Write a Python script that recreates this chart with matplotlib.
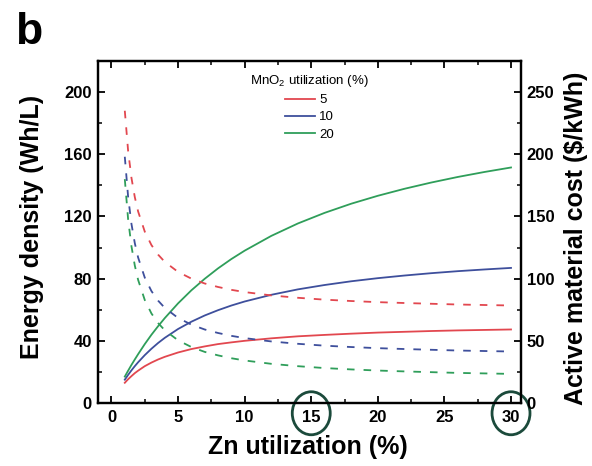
"""
Energy density (solid, left axis) and active material cost (dashed, right axis)
versus Zn utilization for three MnO2 utilization levels.
"""

import matplotlib

matplotlib.use("Agg")
matplotlib.rcParams.update(
    {
        "font.family": ["Liberation Sans", "DejaVu Sans"],
        "mathtext.fontset": "custom",
        "mathtext.rm": "Liberation Sans",
        "mathtext.it": "Liberation Sans:italic",
        "mathtext.bf": "Liberation Sans:bold",
        "mathtext.default": "regular",
    }
)

import matplotlib.pyplot as plt
from matplotlib.patches import Ellipse
from matplotlib.ticker import MultipleLocator

# Zn utilization (%) sample points
zn_util = [1, 1.25, 1.5, 1.75, 2, 2.5, 3, 3.5, 4, 5, 6, 7, 8, 9, 10,
           12, 14, 16, 18, 20, 22, 24, 26, 28, 30]

mno2_labels = ["5", "10", "20"]

# energy density, Wh/L (left axis)
energy_5 = [13.0, 15.3, 17.3, 19.2, 20.8, 23.7, 26.0, 28.0, 29.7, 32.5, 34.7, 36.4,
            37.9, 39.0, 40.0, 41.6, 42.9, 43.8, 44.6, 45.3, 45.8, 46.3, 46.7, 47.0, 47.3]
energy_10 = [15.0, 18.1, 21.0, 23.7, 26.2, 30.8, 34.9, 38.6, 41.9, 47.6, 52.3, 56.3,
             59.7, 62.7, 65.3, 69.6, 73.1, 75.9, 78.3, 80.3, 82.0, 83.5, 84.8, 85.9, 86.9]
energy_20 = [17.0, 20.8, 24.5, 28.0, 31.4, 37.9, 43.9, 49.4, 54.6, 64.1, 72.5, 79.9,
             86.6, 92.6, 98.0, 107.5, 115.5, 122.3, 128.2, 133.3, 137.8, 141.8, 145.4, 148.6, 151.5]

# active material cost, $/kWh (right axis)
cost_5 = [235, 202.6, 181, 165.6, 154, 137.8, 127, 119.3, 113.5, 105.4, 100, 96.1,
          93.3, 91, 89.2, 86.5, 84.6, 83.1, 82, 81.1, 80.4, 79.8, 79.2, 78.8, 78.4]
cost_10 = [198, 165.6, 144, 128.6, 117, 100.8, 90, 82.3, 76.5, 68.4, 63, 59.1,
           56.3, 54, 52.2, 49.5, 47.6, 46.1, 45, 44.1, 43.4, 42.8, 42.2, 41.8, 41.4]
cost_20 = [180, 147.6, 126, 110.6, 99, 82.8, 72, 64.3, 58.5, 50.4, 45, 41.1,
           38.3, 36, 34.2, 31.5, 29.6, 28.1, 27, 26.1, 25.4, 24.8, 24.2, 23.8, 23.4]

# tick labels that are circled in the figure
circled_ticks = [15, 30]

COLORS = ["#e2474f", "#3e4f9c", "#2f9e5a"]
CIRCLE_COLOR = "#1b4a3b"
LW = 1.3
DASH = (0, (4.2, 5.0))
W, H = 592, 466


def _style_axis(ax):
    ax.tick_params(axis="both", which="major", direction="in", length=5, width=1.3,
                   labelsize=12)
    ax.tick_params(axis="both", which="minor", direction="in", length=3, width=1.1)
    ax.tick_params(axis="x", pad=5)
    ax.tick_params(axis="y", pad=4)
    for lab in ax.get_yticklabels() + ax.get_xticklabels():
        lab.set_fontweight("bold")
    for sp in ax.spines.values():
        sp.set_linewidth(1.6)


fig = plt.figure(figsize=(W / 100, H / 100), dpi=100)
ax = fig.add_axes([97.5 / W, 1 - 403 / H, (521 - 97.5) / W, (403 - 61) / H])
ax2 = ax.twinx()

energy = [energy_5, energy_10, energy_20]
cost = [cost_5, cost_10, cost_20]
handles = []
for lab, col, e, c in zip(mno2_labels, COLORS, energy, cost):
    (h,) = ax.plot(zn_util, e, color=col, lw=LW, label=lab)
    ax2.plot(zn_util, c, color=col, lw=LW, linestyle=DASH)
    handles.append(h)

ax.set_xlim(-1.05, 30.75)
ax.set_ylim(0, 220)
ax2.set_ylim(0, 275)

ax.xaxis.set_major_locator(MultipleLocator(5))
ax.xaxis.set_minor_locator(MultipleLocator(2.5))
ax.yaxis.set_major_locator(MultipleLocator(40))
ax.yaxis.set_minor_locator(MultipleLocator(20))
ax2.yaxis.set_major_locator(MultipleLocator(50))
ax2.yaxis.set_minor_locator(MultipleLocator(25))
ax.tick_params(axis="x", which="both", top=True)

_style_axis(ax)
_style_axis(ax2)

leg = ax.legend(
    handles=handles,
    title="MnO$_2$ utilization (%)",
    loc="upper center",
    bbox_to_anchor=(0.5, 0.965),
    frameon=False,
    fontsize=9.5,
    title_fontsize=9.5,
    handlelength=2.3,
    handletextpad=0.3,
    labelspacing=0.38,
    borderpad=0,
    borderaxespad=0,
)

# ellipses around selected x tick labels: x in data units, y in axes units
for xt in circled_ticks:
    ell = Ellipse(
        (xt, -0.03),
        width=38 / 13.33,
        height=43 / 342,
        transform=ax.get_xaxis_transform(),
        fill=False,
        edgecolor=CIRCLE_COLOR,
        linewidth=2.0,
        clip_on=False,
        zorder=5,
    )
    ax.add_patch(ell)

fig.text(32 / W, 1 - 227 / H, "Energy density (Wh/L)", rotation=90, ha="center",
         va="center", fontsize=18, fontweight="bold")
fig.text(576 / W, 1 - 238 / H, "Active material cost ($/kWh)", rotation=90,
         ha="center", va="center", fontsize=18, fontweight="bold")
fig.text(308 / W, 1 - 447 / H, "Zn utilization (%)", ha="center", va="center",
         fontsize=18, fontweight="bold")
fig.text(15 / W, 1 - 44 / H, "b", ha="left", va="baseline", fontsize=32,
         fontweight="bold")

fig.savefig("out.png", dpi=100)
plt.close(fig)
